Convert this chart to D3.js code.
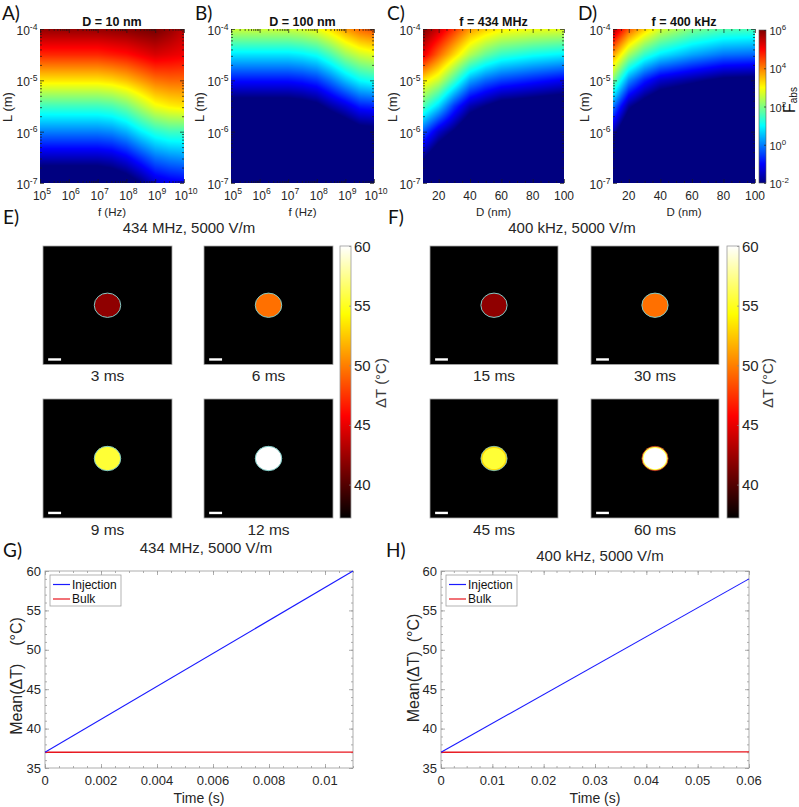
<!DOCTYPE html>
<html><head><meta charset="utf-8">
<script src="https://cdn.jsdelivr.net/npm/d3@7"></script>
<style>
body{margin:0;background:#fff}
svg{display:block}
text{font-family:"Liberation Sans",Arial,Helvetica,sans-serif;fill:#262626}
.letter{font-family:Lato,"Open Sans",sans-serif;font-size:19px;fill:#111}
</style>
</head><body>
<svg id="fig" width="799" height="807"></svg>
<script>
// ================= DATA =================
// log10 of frequency (Hz) grid columns for panels A, B
const freqExp = [5, 6, 7, 7.5, 8, 8.5, 9, 9.5, 10];
// log10 of L (m) grid rows, top to bottom
const lengthExp = [-4, -4.5, -5, -5.5, -6, -6.5, -7];
// log10(F_abs), D = 10 nm
const logFabsD10 = [
  [5.85, 5.85, 5.85, 5.9, 5.95, 6.05, 6.1, 5.85, 5.5],
  [4.7, 4.7, 4.7, 4.8, 4.9, 5.1, 5.3, 5.2, 5.1],
  [3.2, 3.2, 3.2, 3.3, 3.5, 3.8, 4.1, 4.2, 4.2],
  [1.5, 1.5, 1.5, 1.6, 1.9, 2.4, 2.9, 3.1, 3.2],
  [0.0, 0.0, 0.0, 0.1, 0.4, 0.9, 1.3, 1.5, 1.5],
  [-1.5, -1.5, -1.5, -1.4, -1.1, -0.6, -0.1, 0.1, 0.2],
  [-3.0, -3.0, -3.0, -2.8, -2.5, -2.0, -1.4, -1.2, -1.1]
];
// log10(F_abs), D = 100 nm
const logFabsD100 = [
  [2.6, 2.6, 2.6, 2.7, 2.9, 3.3, 3.8, 4.2, 4.4],
  [0.8, 0.8, 0.8, 0.9, 1.1, 1.6, 2.2, 2.6, 2.8],
  [-0.9, -0.9, -0.9, -0.8, -0.6, -0.1, 0.5, 1.0, 1.2],
  [-2.5, -2.5, -2.5, -2.4, -2.2, -1.7, -1.3, -0.8, -0.7],
  [-4.0, -4.0, -4.0, -3.9, -3.7, -3.2, -2.8, -2.4, -2.3],
  [-5.0, -5.0, -5.0, -4.9, -4.7, -4.3, -3.9, -3.6, -3.5],
  [-6.0, -6.0, -6.0, -5.9, -5.7, -5.4, -5.0, -4.7, -4.6]
];
// diameter (nm) grid columns, panel C
const diamC = [10, 20, 30, 40, 50, 60, 80, 100];
// log10(F_abs), f = 434 MHz
const logFabs434MHz = [
  [6.0, 5.4, 4.6, 3.8, 3.4, 3.1, 2.9, 2.8],
  [5.2, 4.2, 3.3, 2.4, 1.8, 1.4, 1.1, 0.9],
  [3.2, 2.6, 1.5, 0.3, -0.2, -0.5, -0.8, -1.1],
  [1.65, 0.7, -0.6, -1.6, -2.0, -2.4, -2.6, -2.8],
  [-0.3, -1.4, -2.1, -3.0, -3.5, -4.0, -4.2, -4.4],
  [-1.9, -2.8, -3.5, -4.5, -5.0, -5.5, -5.7, -5.9],
  [-3.0, -4.0, -5.0, -6.0, -6.5, -7.0, -7.2, -7.4]
];
// diameter (nm) grid columns, panel D
const diamD = [10, 20, 30, 40, 60, 80, 100];
// log10(F_abs), f = 400 kHz
const logFabs400kHz = [
  [5.7, 4.3, 3.4, 2.7, 2.0, 1.65, 1.55],
  [3.8, 2.3, 1.4, 0.85, 0.3, -0.1, -0.2],
  [2.0, 0.1, -0.8, -1.4, -1.8, -2.2, -2.3],
  [0.0, -1.8, -2.5, -3.0, -3.4, -3.8, -3.9],
  [-1.6, -3.2, -4.0, -4.5, -5.0, -5.3, -5.4],
  [-2.8, -4.5, -5.5, -6.0, -6.5, -6.8, -7.0],
  [-4.0, -6.0, -7.0, -7.5, -8.0, -8.3, -8.5]
];
const fabsTickExp = [-2, 0, 2, 4, 6];
const freqTickExp = [5, 6, 7, 8, 9, 10];
const lengthTickExp = [-7, -6, -5, -4];
const diamTicks = [20, 40, 60, 80, 100];

// thermal snapshots
const snapshotLabelsE = ["3 ms", "6 ms", "9 ms", "12 ms"];
const snapshotTempE = [42, 49.5, 55.5, 60];
const snapshotLabelsF = ["15 ms", "30 ms", "45 ms", "60 ms"];
const snapshotTempF = [42, 49.5, 55.5, 60];
const rimTempF = [null, null, 53, 56];
const tempTicks = [40, 45, 50, 55, 60];
const dropletRadius = 0.205;        // relative to half field width
const scaleBarExtent = [-0.92, -0.72];

// mean temperature curves
const timeG = [0, 0.011];
const injectionG = [37, 60];
const bulkG = [37, 37.02];
const timeTicksG = [0, 0.002, 0.004, 0.006, 0.008, 0.01];
const timeH = [0, 0.06];
const injectionH = [37, 59];
const bulkH = [37, 37.05];
const timeTicksH = [0, 0.01, 0.02, 0.03, 0.04, 0.05, 0.06];
const meanTicks = [35, 40, 45, 50, 55, 60];

// ================= DRAWING =================
const svg = d3.select("#fig");
const clamp01 = v => Math.max(0, Math.min(1, v));
const jet = t => [clamp01(Math.min(4*t-1.5, -4*t+4.5)), clamp01(Math.min(4*t-0.5, -4*t+3.5)), clamp01(Math.min(4*t+0.5, -4*t+2.5))];
const hot = t => [clamp01(t/0.375), clamp01((t-0.375)/0.375), clamp01((t-0.75)/0.25)];
const toHex = c => d3.rgb(c[0]*255, c[1]*255, c[2]*255).formatHex();
const fabsColor = d3.scaleLinear().domain([-2, 6]).range([0, 1]).clamp(true);
const tempColor = d3.scaleLinear().domain([37.2, 60]).range([0, 1]).clamp(true);

function bilinear(xs, ysDesc, grid, gx, gy) {
  let i = d3.bisectRight(xs, gx) - 1;
  i = Math.max(0, Math.min(xs.length - 2, i));
  const tx = clamp01((gx - xs[i]) / (xs[i+1] - xs[i]));
  let j = 0;
  while (j < ysDesc.length - 2 && gy < ysDesc[j+1]) j++;
  const ty = clamp01((ysDesc[j] - gy) / (ysDesc[j] - ysDesc[j+1]));
  const a = grid[j][i], b = grid[j][i+1], c = grid[j+1][i], d = grid[j+1][i+1];
  return (a*(1-tx) + b*tx)*(1-ty) + (c*(1-tx) + d*tx)*ty;
}

function cleanAxis(sel, color, width) {
  sel.select(".domain").remove();
  sel.selectAll("text").remove();
  sel.selectAll("line").attr("stroke", color).attr("stroke-width", width || 0.8);
}

function powLabel(g, exp, x, y, anchor, size) {
  const t = g.append("text").attr("x", x).attr("y", y).attr("text-anchor", anchor).style("font-size", size + "px");
  t.append("tspan").text("10");
  t.append("tspan").attr("dy", -size*0.45).style("font-size", (size*0.72) + "px").text(exp < 0 ? "-" + Math.abs(exp) : String(exp));
  return t;
}

function heatPanel(o) {
  const g = svg.append("g");
  const x = o.logX ? d3.scaleLog().domain(o.xDomain).range([o.x0, o.x1])
                   : d3.scaleLinear().domain(o.xDomain).range([o.x0, o.x1]);
  const y = d3.scaleLog().domain([1e-7, 1e-4]).range([o.y1, o.y0]);
  const W = Math.round(o.x1 - o.x0), H = Math.round(o.y1 - o.y0);
  const cv = document.createElement("canvas"); cv.width = W; cv.height = H;
  const ctx = cv.getContext("2d"); const img = ctx.createImageData(W, H);
  for (let i = 0; i < W; i++) {
    const xv = x.invert(o.x0 + (i + 0.5) * (o.x1 - o.x0) / W);
    const gx = o.logX ? Math.log10(xv) : xv;
    for (let j = 0; j < H; j++) {
      const gy = Math.log10(y.invert(o.y0 + (j + 0.5) * (o.y1 - o.y0) / H));
      const v = bilinear(o.xs, lengthExp, o.grid, gx, gy);
      const c = jet(fabsColor(v));
      const k = (j*W + i)*4;
      img.data[k] = c[0]*255; img.data[k+1] = c[1]*255; img.data[k+2] = c[2]*255; img.data[k+3] = 255;
    }
  }
  ctx.putImageData(img, 0, 0);
  g.append("image").attr("x", o.x0).attr("y", o.y0).attr("width", o.x1 - o.x0).attr("height", o.y1 - o.y0)
    .attr("preserveAspectRatio", "none").attr("href", cv.toDataURL());

  let xMaj, xMin;
  if (o.logX) {
    xMaj = freqTickExp.map(e => Math.pow(10, e));
    xMin = [];
    for (let e = 5; e < 10; e++) for (let m = 2; m <= 9; m++) xMin.push(m * Math.pow(10, e));
  } else {
    xMaj = diamTicks;
    xMin = d3.range(15, 100, 5).filter(v => v % 20 !== 0);
  }
  const yMaj = lengthTickExp.map(e => Math.pow(10, e));
  const yMin = [];
  for (let e = -7; e < -4; e++) for (let m = 2; m <= 9; m++) yMin.push(m * Math.pow(10, e));
  const tc = "#1a1a1a";
  const add = (gen, tr) => g.append("g").attr("transform", tr).call(gen).call(s => cleanAxis(s, tc, 0.7));
  add(d3.axisBottom(x).tickValues(xMaj).tickSizeInner(-4).tickSizeOuter(0), `translate(0,${o.y1})`);
  add(d3.axisBottom(x).tickValues(xMin).tickSizeInner(-2).tickSizeOuter(0), `translate(0,${o.y1})`);
  add(d3.axisTop(x).tickValues(xMaj).tickSizeInner(-4).tickSizeOuter(0), `translate(0,${o.y0})`);
  add(d3.axisTop(x).tickValues(xMin).tickSizeInner(-2).tickSizeOuter(0), `translate(0,${o.y0})`);
  add(d3.axisLeft(y).tickValues(yMaj).tickSizeInner(-4).tickSizeOuter(0), `translate(${o.x0},0)`);
  add(d3.axisLeft(y).tickValues(yMin).tickSizeInner(-2).tickSizeOuter(0), `translate(${o.x0},0)`);
  add(d3.axisRight(y).tickValues(yMaj).tickSizeInner(-4).tickSizeOuter(0), `translate(${o.x1},0)`);
  add(d3.axisRight(y).tickValues(yMin).tickSizeInner(-2).tickSizeOuter(0), `translate(${o.x1},0)`);

  if (o.logX) {
    freqTickExp.forEach(e => powLabel(g, e, x(Math.pow(10, e)) + 2, o.y1 + 16.5, "middle", 12));
  } else {
    diamTicks.forEach(d => g.append("text").attr("x", x(d)).attr("y", o.y1 + 16.5).attr("text-anchor", "middle").style("font-size", "12px").text(d));
  }
  lengthTickExp.forEach(e => powLabel(g, e, o.x0 - 2.5, y(Math.pow(10, e)) + 6, "end", 12));

  g.append("text").attr("x", (o.x0 + o.x1)/2).attr("y", 26).attr("text-anchor", "middle")
    .style("font-size", "12.5px").style("font-weight", "bold").style("fill", "#111").text(o.title);
  g.append("text").attr("x", (o.x0 + o.x1)/2).attr("y", 215.5).attr("text-anchor", "middle")
    .style("font-size", "11.5px").text(o.xLabel);
  g.append("text").attr("transform", `translate(${o.yLabelX},107) rotate(-90)`).attr("text-anchor", "middle")
    .style("font-size", "13px").text("L (m)");
  g.append("text").attr("class", "letter").attr("x", o.letterX).attr("y", 20).text(o.letter);
}

heatPanel({x0: 40, x1: 184, y0: 29, y1: 183, logX: true, xDomain: [1e5, 1e10], xs: freqExp, grid: logFabsD10,
  title: "D = 10 nm", xLabel: "f (Hz)", letter: "A)", letterX: 2, yLabelX: 12});
heatPanel({x0: 231, x1: 374, y0: 29, y1: 183, logX: true, xDomain: [1e5, 1e10], xs: freqExp, grid: logFabsD100,
  title: "D = 100 nm", xLabel: "f (Hz)", letter: "B)", letterX: 195, yLabelX: 204});
heatPanel({x0: 423, x1: 564, y0: 29, y1: 183, logX: false, xDomain: [10, 100], xs: diamC, grid: logFabs434MHz,
  title: "f = 434 MHz", xLabel: "D (nm)", letter: "C)", letterX: 387, yLabelX: 397});
heatPanel({x0: 613, x1: 755, y0: 29, y1: 183, logX: false, xDomain: [10, 100], xs: diamD, grid: logFabs400kHz,
  title: "f = 400 kHz", xLabel: "D (nm)", letter: "D)", letterX: 578, yLabelX: 589});

// jet colorbar
(function () {
  const x0 = 759, x1 = 766, y0 = 30, y1 = 183;
  const cy = d3.scaleLinear().domain([-2, 6]).range([y1, y0]);
  const H = Math.round(y1 - y0);
  const cv = document.createElement("canvas"); cv.width = 1; cv.height = H;
  const ctx = cv.getContext("2d");
  for (let j = 0; j < H; j++) {
    ctx.fillStyle = toHex(jet(fabsColor(cy.invert(y0 + j + 0.5))));
    ctx.fillRect(0, j, 1, 1);
  }
  const g = svg.append("g");
  g.append("image").attr("x", x0).attr("y", y0).attr("width", x1 - x0).attr("height", y1 - y0)
    .attr("preserveAspectRatio", "none").attr("href", cv.toDataURL());
  g.append("rect").attr("x", x0).attr("y", y0).attr("width", x1 - x0).attr("height", y1 - y0)
    .attr("fill", "none").attr("stroke", "#555").attr("stroke-width", 0.6);
  g.append("g").attr("transform", `translate(${x1},0)`).call(d3.axisRight(cy).tickValues(fabsTickExp).tickSizeInner(-2).tickSizeOuter(0)).call(s => cleanAxis(s, "#222", 0.7));
  fabsTickExp.forEach(e => powLabel(g, e, x1 + 3.5, cy(e) + 5, "start", 11));
  const t = g.append("text").attr("transform", "translate(795,113) rotate(-90)").style("font-size", "16px").style("fill", "#111");
  t.append("tspan").text("F");
  t.append("tspan").attr("dy", 1.5).style("font-size", "10px").text("abs");
})();

// thermal snapshot panels
function thermalPanel(o) {
  const g = svg.append("g");
  g.append("text").attr("x", o.titleX).attr("y", 233).attr("text-anchor", "middle").style("font-size", "15px").text(o.title);
  g.append("text").attr("class", "letter").attr("x", o.letterX).attr("y", 224).text(o.letter);
  o.temps.forEach((T, k) => {
    const [x0, x1] = o.cols[k % 2];
    const [y0, y1] = o.rows[Math.floor(k / 2)];
    const sx = d3.scaleLinear().domain([-1, 1]).range([x0, x1]);
    const sy = d3.scaleLinear().domain([-1, 1]).range([y1, y0]);
    g.append("rect").attr("x", x0).attr("y", y0).attr("width", x1 - x0).attr("height", y1 - y0)
      .attr("fill", "#000").attr("stroke", "#a8a8a8").attr("stroke-width", 0.8);
    const rx = sx(dropletRadius) - sx(0), ry = sy(0) - sy(dropletRadius);
    const rim = o.rims ? o.rims[k] : null;
    if (rim !== null) {
      g.append("ellipse").attr("cx", sx(0)).attr("cy", sy(0)).attr("rx", rx).attr("ry", ry)
        .attr("fill", toHex(hot(tempColor(rim))));
      g.append("ellipse").attr("cx", sx(0)).attr("cy", sy(0)).attr("rx", rx * 0.87).attr("ry", ry * 0.87)
        .attr("fill", toHex(hot(tempColor(T))));
      g.append("ellipse").attr("cx", sx(0)).attr("cy", sy(0)).attr("rx", rx).attr("ry", ry)
        .attr("fill", "none").attr("stroke", k === 3 ? "#b8201a" : "#7fc9c4").attr("stroke-width", 0.8);
    } else {
      g.append("ellipse").attr("cx", sx(0)).attr("cy", sy(0)).attr("rx", rx).attr("ry", ry)
        .attr("fill", toHex(hot(tempColor(T)))).attr("stroke", "#80cbc6").attr("stroke-width", 1);
    }
    g.append("line").attr("x1", sx(scaleBarExtent[0])).attr("x2", sx(scaleBarExtent[1]))
      .attr("y1", sy(-0.915)).attr("y2", sy(-0.915)).attr("stroke", "#fff").attr("stroke-width", 2.4);
    g.append("text").attr("x", (x0 + x1) / 2).attr("y", y1 + 16.5).attr("text-anchor", "middle")
      .style("font-size", "15.5px").text(o.labels[k]);
  });
  const cb = o.cb;
  const cy = d3.scaleLinear().domain([37.2, 60]).range([cb.y1, cb.y0]);
  const H = Math.round(cb.y1 - cb.y0);
  const cv = document.createElement("canvas"); cv.width = 1; cv.height = H;
  const ctx = cv.getContext("2d");
  for (let j = 0; j < H; j++) {
    ctx.fillStyle = toHex(hot(tempColor(cy.invert(cb.y0 + j + 0.5))));
    ctx.fillRect(0, j, 1, 1);
  }
  g.append("image").attr("x", cb.x0).attr("y", cb.y0).attr("width", cb.x1 - cb.x0).attr("height", cb.y1 - cb.y0)
    .attr("preserveAspectRatio", "none").attr("href", cv.toDataURL());
  g.append("rect").attr("x", cb.x0).attr("y", cb.y0).attr("width", cb.x1 - cb.x0).attr("height", cb.y1 - cb.y0)
    .attr("fill", "none").attr("stroke", "#999").attr("stroke-width", 0.8);
  g.append("g").attr("transform", `translate(${cb.x1},0)`).call(d3.axisRight(cy).tickValues(tempTicks).tickSizeInner(-2).tickSizeOuter(0)).call(s => cleanAxis(s, "#888", 0.7));
  tempTicks.forEach(v => g.append("text").attr("x", cb.x1 + 3).attr("y", cy(v) + 5.5).style("font-size", "15px").text(v));
  g.append("text").attr("transform", `translate(${cb.labelX},383) rotate(-90)`).attr("text-anchor", "middle")
    .style("font-size", "15px").style("fill", "#3a3a3a").text("\u0394T (\u00B0C)");
}

thermalPanel({title: "434 MHz, 5000 V/m", titleX: 189, letter: "E)", letterX: 3,
  cols: [[43, 172], [204, 333]], rows: [[246, 364.5], [399, 518]],
  temps: snapshotTempE, labels: snapshotLabelsE, rims: null,
  cb: {x0: 340, x1: 351, y0: 246, y1: 518, labelX: 386}});
thermalPanel({title: "400 kHz, 5000 V/m", titleX: 572, letter: "F)", letterX: 388,
  cols: [[430, 558], [591, 719]], rows: [[246, 364.5], [399, 518]],
  temps: snapshotTempF, labels: snapshotLabelsF, rims: rimTempF,
  cb: {x0: 727, x1: 739, y0: 246, y1: 518, labelX: 773}});

// line panels
function linePanel(o) {
  const g = svg.append("g");
  const x = d3.scaleLinear().domain([0, o.tmax]).range([o.x0, o.x1]);
  const y = d3.scaleLinear().domain([35, 60]).range([o.y1, o.y0]);
  const bc = "#9a9a9a";
  g.append("rect").attr("x", o.x0).attr("y", o.y0).attr("width", o.x1 - o.x0).attr("height", o.y1 - o.y0)
    .attr("fill", "#fff").attr("stroke", bc).attr("stroke-width", 0.8);
  const xMin = d3.range(0, o.tmax + 1e-9, o.minorStep);
  const yMin = d3.range(35, 60.001, 1);
  const add = (gen, tr) => g.append("g").attr("transform", tr).call(gen).call(s => cleanAxis(s, bc, 0.8));
  add(d3.axisBottom(x).tickValues(o.ticks).tickSizeInner(-4).tickSizeOuter(0), `translate(0,${o.y1})`);
  add(d3.axisBottom(x).tickValues(xMin).tickSizeInner(-2).tickSizeOuter(0), `translate(0,${o.y1})`);
  add(d3.axisTop(x).tickValues(o.ticks).tickSizeInner(-4).tickSizeOuter(0), `translate(0,${o.y0})`);
  add(d3.axisTop(x).tickValues(xMin).tickSizeInner(-2).tickSizeOuter(0), `translate(0,${o.y0})`);
  add(d3.axisLeft(y).tickValues(meanTicks).tickSizeInner(-4).tickSizeOuter(0), `translate(${o.x0},0)`);
  add(d3.axisLeft(y).tickValues(yMin).tickSizeInner(-2).tickSizeOuter(0), `translate(${o.x0},0)`);
  add(d3.axisRight(y).tickValues(meanTicks).tickSizeInner(-4).tickSizeOuter(0), `translate(${o.x1},0)`);
  add(d3.axisRight(y).tickValues(yMin).tickSizeInner(-2).tickSizeOuter(0), `translate(${o.x1},0)`);

  o.ticks.forEach(v => g.append("text").attr("x", x(v)).attr("y", o.y1 + 17).attr("text-anchor", "middle").style("font-size", "13px").text(v));
  meanTicks.forEach(v => g.append("text").attr("x", o.x0 - 4).attr("y", y(v) + 4.6).attr("text-anchor", "end").style("font-size", "13px").text(v));
  g.append("text").attr("x", (o.x0 + o.x1) / 2).attr("y", 803).attr("text-anchor", "middle").style("font-size", "14px").text("Time (s)");
  g.append("text").attr("transform", `translate(${o.yLabelX},${o.yLabelY}) rotate(-90)`).attr("text-anchor", "middle")
    .style("font-size", "16px").style("white-space", "pre").attr("xml:space", "preserve").text(o.yLabel);
  g.append("text").attr("x", o.titleX).attr("y", o.titleY).attr("text-anchor", "middle").style("font-size", "15px").text(o.title);
  g.append("text").attr("class", "letter").attr("x", o.letterX).attr("y", 557).text(o.letter);

  const line = d3.line().x((d, i) => x(o.time[i])).y(d => y(d));
  g.append("path").datum(o.bulk).attr("d", line).attr("fill", "none").attr("stroke", "#e8141c").attr("stroke-width", 1.4);
  g.append("path").datum(o.inj).attr("d", line).attr("fill", "none").attr("stroke", "#1a1aff").attr("stroke-width", 1.1);

  const lx = o.x0 + 5, ly = o.y0 + 4;
  g.append("rect").attr("x", lx).attr("y", ly).attr("width", 71).attr("height", 31)
    .attr("fill", "#fff").attr("stroke", "#a0a0a0").attr("stroke-width", 0.8);
  [["Injection", "#1a1aff", 9.5], ["Bulk", "#e8141c", 24]].forEach(([lab, col, dy]) => {
    g.append("line").attr("x1", lx + 3).attr("x2", lx + 20).attr("y1", ly + dy).attr("y2", ly + dy).attr("stroke", col).attr("stroke-width", 1.2);
    g.append("text").attr("x", lx + 22).attr("y", ly + dy + 4.3).style("font-size", "12px").style("fill", "#111").text(lab);
  });
}

linePanel({x0: 45, x1: 353, y0: 571, y1: 768, tmax: 0.011, ticks: timeTicksG, minorStep: 0.0005,
  time: timeG, inj: injectionG, bulk: bulkG, title: "434 MHz, 5000 V/m", titleX: 206, titleY: 552.5,
  letter: "G)", letterX: 3, yLabel: "Mean(\u0394T)    (\u00B0C)", yLabelX: 22, yLabelY: 676});
linePanel({x0: 441, x1: 749, y0: 571, y1: 768, tmax: 0.06, ticks: timeTicksH, minorStep: 0.0025,
  time: timeH, inj: injectionH, bulk: bulkH, title: "400 kHz, 5000 V/m", titleX: 600, titleY: 560.5,
  letter: "H)", letterX: 386, yLabel: "Mean(\u0394T)  (\u00B0C)", yLabelX: 419, yLabelY: 668});
</script>
</body></html>
